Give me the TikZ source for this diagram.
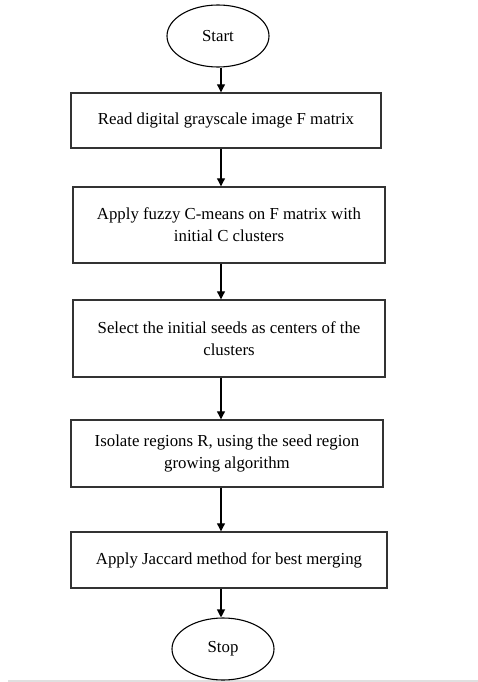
\documentclass[tikz,border=0pt]{standalone}
\usepackage{fontspec}
\setmainfont{Liberation Serif}
\usetikzlibrary{shapes.geometric,arrows.meta}

\begin{document}
\begin{tikzpicture}[x=1pt,y=-1pt,
    term/.style={ellipse, draw, line width=1.1pt, minimum width=102pt, minimum height=62pt, inner sep=0},
    stepbox/.style={rectangle, draw=black!80, line width=1.4pt, minimum width=312pt, align=center, inner sep=0},
    flow/.style={-{Triangle[length=8pt,width=8pt]}, line width=1.1pt}]
                \newcommand{\textsz}{\fontsize{16.8}{22}\selectfont}
                \newcommand{\arrowx}{221}

                % Draw page frame
                \useasboundingbox (0,0) rectangle (478,682);
                \draw[black!12, line width=1.5pt] (8,681) -- (478,681);

                % Draw terminals
                \node[term, font=\textsz] (start) at (218,36) {Start};
                \node[term, font=\textsz] (stop) at (223,649) {Stop};

                % Draw process boxes
                \node[stepbox, font=\textsz, minimum width=310pt, minimum height=55pt] (readimg) at (226,120.5)
                    {Read digital grayscale image F matrix};
                \node[stepbox, font=\textsz, minimum height=76pt] (fuzzy) at (229,225)
                    {Apply fuzzy C-means on F matrix with\\initial C clusters};
                \node[stepbox, font=\textsz, minimum height=77pt] (seeds) at (229,338.5)
                    {Select the initial seeds as centers of the\\clusters};
                \node[stepbox, font=\textsz, minimum height=67pt] (isolate) at (227,453.5)
                    {Isolate regions R, using the seed region\\growing algorithm};
                \node[stepbox, font=\textsz, minimum width=316pt, minimum height=56pt] (jaccard) at (229,560)
                    {Apply Jaccard method for best merging};

                % Draw arrows
                \coordinate (axis) at (\arrowx,0);
                \foreach \a/\b in {start/readimg, readimg/fuzzy, fuzzy/seeds, seeds/isolate, isolate/jaccard, jaccard/stop} {
                    \draw[flow] (\a.south -| axis) -- (\b.north -| axis);
                }
            \end{tikzpicture}
\end{document}
